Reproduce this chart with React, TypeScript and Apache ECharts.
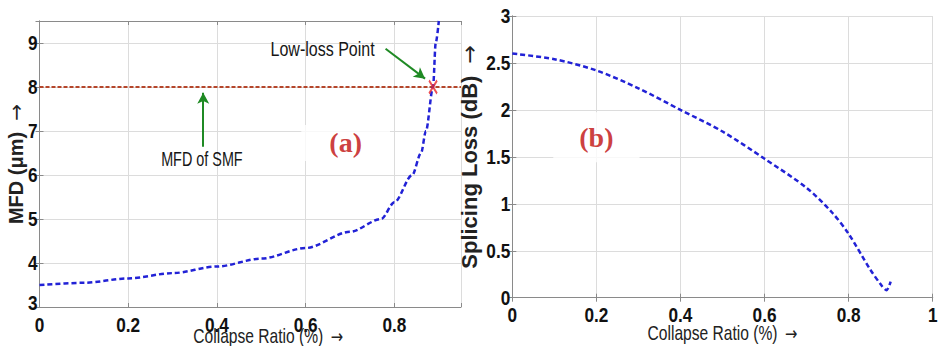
import React, { useEffect, useRef } from "react";
import * as echarts from "echarts";

// Panel (a): MFD vs collapse ratio
const ratioA = [0, 0.1, 0.2, 0.3, 0.4, 0.5, 0.6, 0.7, 0.77, 0.8, 0.84, 0.86, 0.871, 0.887, 0.893, 0.9];
const mfdValues = [3.5, 3.55, 3.65, 3.77, 3.92, 4.1, 4.34, 4.71, 5.0, 5.38, 6.0, 6.5, 7.0, 8.0, 9.0, 9.5];
const smfLineX = [0, 0.95];
const smfMfd = 8;
const lowLossPoint = [0.887, 8];

// Panel (b): splicing loss vs collapse ratio
const ratioB = [0, 0.1, 0.2, 0.3, 0.4, 0.5, 0.6, 0.7, 0.76, 0.8, 0.85, 0.88, 0.89, 0.9];
const lossValues = [2.6, 2.54, 2.42, 2.23, 2.0, 1.77, 1.48, 1.17, 0.91, 0.68, 0.31, 0.12, 0.08, 0.17];

// Axis ranges / tick labels
const axisA = { xMin: 0, xMax: 0.95, xStep: 0.2, yMin: 3, yMax: 9.5, yStep: 1 };
const axisB = { xMin: 0, xMax: 1, xStep: 0.2, yMin: 0, yMax: 3, yStep: 0.5 };
const xTicksA = [0, 0.2, 0.4, 0.6, 0.8];
const yTicksA = [3, 4, 5, 6, 7, 8, 9];
const xTicksB = [0, 0.2, 0.4, 0.6, 0.8, 1];
const yTicksB = [0, 0.5, 1, 1.5, 2, 2.5, 3];

// Titles
const xTitle = "Collapse Ratio (%)";
const yTitleA = "MFD (μm)";
const yTitleB = "Splicing Loss (dB)";

// Annotations (data coordinates)
const smfArrow = [[0.369, 6.64], [0.369, 7.87]];
const lowLossArrow = [[0.78, 8.87], [0.869, 8.19]];
const smfText = { name: "MFD of SMF", at: [0.366, 6.37] };
const lowLossText = { name: "Low-loss Point", at: [0.638, 8.85] };
const panelALabel = { name: "(a)", at: [0.69, 6.73] };
const panelBLabel = { name: "(b)", at: [0.2, 1.71] };

const SANS = "'Liberation Sans', Arial, sans-serif";
const SERIF = "'Liberation Serif', 'Times New Roman', serif";

export default function App() {
  const ref = useRef<HTMLDivElement>(null);
  useEffect(() => {
    if (!ref.current) return;
    const chart = echarts.init(ref.current, null, { renderer: "svg" });

    const frame = "#8a8a8a";
    const gridC = "#dcdcdc";
    const blue = "#2222d6";
    const green = "#1f8a24";

    const baseX = (gi: number, ax: any, pos: string, split: boolean) => ({
      type: "value",
      gridIndex: gi,
      position: pos,
      min: ax.xMin,
      max: ax.xMax,
      interval: ax.xStep,
      axisLine: { show: true, lineStyle: { color: frame, width: 1 } },
      axisTick: { show: true, inside: true, length: 4, lineStyle: { color: frame } },
      splitLine: { show: split, lineStyle: { color: gridC, width: 1 } },
      axisLabel: { show: false },
    });
    const baseY = (gi: number, ax: any, pos: string, split: boolean) => ({
      type: "value",
      gridIndex: gi,
      position: pos,
      min: ax.yMin,
      max: ax.yMax,
      interval: ax.yStep,
      axisLine: { show: true, lineStyle: { color: frame, width: 1 } },
      axisTick: { show: true, inside: true, length: 4, lineStyle: { color: frame } },
      splitLine: { show: split, lineStyle: { color: gridC, width: 1 } },
      axisLabel: { show: false },
    });
    const withYName = (axis: any, title: string, gap: number, size: number) => ({
      ...axis,
      name: title + "  {arr|→}",
      nameLocation: "middle",
      nameRotate: 90,
      nameGap: gap,
      nameTextStyle: {
        color: "#222",
        fontFamily: SANS,
        fontWeight: "bold",
        fontSize: size,
        rich: { arr: { fontFamily: "'DejaVu Sans'", fontWeight: "normal", fontSize: size, color: "#222" } },
      },
    });

    type NT = {
      v: number[];
      text: string;
      dx: number;
      dy: number;
      align: string;
      va: string;
      size: number;
      weight: string;
      color: string;
      sx: number;
    };
    const tickItems = (xs: number[], ys: number[], ax: any): NT[] => [
      ...xs.map((x) => ({
        v: [x, ax.yMin], text: String(x), dx: 0, dy: 7, align: "center", va: "top",
        size: 21, weight: "bold", color: "#111", sx: 0.82,
      })),
      ...ys.map((y) => ({
        v: [ax.xMin, y], text: String(y), dx: -2, dy: y === ax.yMin && ax.yMin > 0 ? -4 : 0, align: "right", va: "middle",
        size: 21, weight: "bold", color: "#111", sx: 0.82,
      })),
    ];
    const titleItem = (ax: any, dx: number, dy: number): NT => ({
      v: [(ax.xMin + ax.xMax) / 2, ax.yMin], text: xTitle + " {arr|→}", dx, dy, align: "center", va: "middle",
      size: 20, weight: "normal", color: "#222", sx: 0.78,
    });
    const annItem = (t: any, size: number, sx: number): NT => ({
      v: t.at, text: t.name, dx: 0, dy: 0, align: "center", va: "middle",
      size, weight: "normal", color: "#161616", sx,
    });

    const itemsA: NT[] = [
      ...tickItems(xTicksA, yTicksA, axisA),
      titleItem(axisA, 18, 29),
      annItem(smfText, 20, 0.72),
      annItem(lowLossText, 20, 0.8),
    ];
    const itemsB: NT[] = [...tickItems(xTicksB, yTicksB, axisB), titleItem(axisB, 0, 36)];

    const narrowSeries = (idx: number, items: NT[]) => ({
      type: "custom",
      xAxisIndex: idx,
      yAxisIndex: idx,
      clip: false,
      silent: true,
      z: 7,
      data: items.map((it) => it.v),
      renderItem: (params: any, api: any) => {
        const it = items[params.dataIndex];
        const p = api.coord([api.value(0), api.value(1)]);
        return {
          type: "text",
          x: p[0] + it.dx,
          y: p[1] + it.dy,
          scaleX: it.sx,
          style: {
            x: 0,
            y: 0,
            text: it.text,
            fill: it.color,
            align: it.align,
            verticalAlign: it.va,
            fontFamily: SANS,
            fontSize: it.size,
            fontWeight: it.weight,
            rich: { arr: { fontFamily: "'DejaVu Sans'", fontSize: it.size - 1, fill: it.color, padding: [0, 0, 0, 4] } },
          },
        };
      },
    });

    const panelLabel = (t: any, xi: number, pad: number[]) => ({
      type: "scatter",
      xAxisIndex: xi,
      yAxisIndex: xi,
      symbolSize: 0,
      silent: true,
      z: 5,
      data: [{ name: t.name, value: t.at }],
      label: {
        show: true,
        position: "inside",
        formatter: "{b}",
        color: "#c00d0d",
        fontFamily: SERIF,
        fontWeight: "bold",
        fontSize: 28,
        backgroundColor: "#ffffff",
        padding: pad,
      },
    });

    chart.setOption({
      animation: false,
      backgroundColor: "#ffffff",
      grid: [
        { left: 39.5, top: 21, width: 421.5, height: 286, show: false, outerBoundsMode: "none", containLabel: false },
        { left: 512.3, top: 16, width: 420.4, height: 281.7, show: false, outerBoundsMode: "none", containLabel: false },
      ],
      xAxis: [
        baseX(0, axisA, "bottom", true),
        baseX(0, axisA, "top", false),
        baseX(1, axisB, "bottom", true),
        baseX(1, axisB, "top", false),
      ],
      yAxis: [
        withYName(baseY(0, axisA, "left", true), yTitleA, 14, 20),
        baseY(0, axisA, "right", false),
        withYName(baseY(1, axisB, "left", true), yTitleB, 32, 22),
        baseY(1, axisB, "right", false),
      ],
      series: [
        {
          type: "line",
          xAxisIndex: 0,
          yAxisIndex: 0,
          data: smfLineX.map((x) => [x, smfMfd]),
          showSymbol: false,
          lineStyle: { color: "#b5462b", width: 2, type: [4, 2] },
          z: 3,
          markLine: {
            silent: true,
            symbol: ["none", "arrow"],
            symbolSize: [9, 11],
            label: { show: false },
            lineStyle: { color: green, width: 2, type: "solid" },
            data: [
              [{ coord: smfArrow[0] }, { coord: smfArrow[1] }],
              [{ coord: lowLossArrow[0] }, { coord: lowLossArrow[1] }],
            ],
          },
        },
        {
          type: "line",
          xAxisIndex: 0,
          yAxisIndex: 0,
          data: ratioA.map((x, i) => [x, mfdValues[i]]),
          showSymbol: false,
          smooth: 0.3,
          smoothMonotone: "x",
          lineStyle: { color: blue, width: 2.5, type: [5, 3] },
          z: 4,
        },
        {
          type: "scatter",
          xAxisIndex: 0,
          yAxisIndex: 0,
          data: [lowLossPoint],
          symbol: "path://M0,0L8,14M8,0L0,14",
          symbolSize: [8, 13],
          itemStyle: { color: "none", borderColor: "#e8262a", borderWidth: 2 },
          z: 6,
        },
        {
          type: "line",
          xAxisIndex: 2,
          yAxisIndex: 2,
          data: ratioB.map((x, i) => [x, lossValues[i]]),
          showSymbol: false,
          smooth: 0.3,
          lineStyle: { color: blue, width: 2.5, type: [5, 3] },
          z: 4,
        },
        narrowSeries(0, itemsA),
        narrowSeries(2, itemsB),
        panelLabel(panelALabel, 0, [4, 28]),
        panelLabel(panelBLabel, 2, [11, 26]),
      ],
    });
    return () => chart.dispose();
  }, []);
  return (
    <div
      ref={ref}
      style={{ position: "fixed", left: 0, top: 0, width: 944, height: 346, background: "#fff" }}
    />
  );
}
